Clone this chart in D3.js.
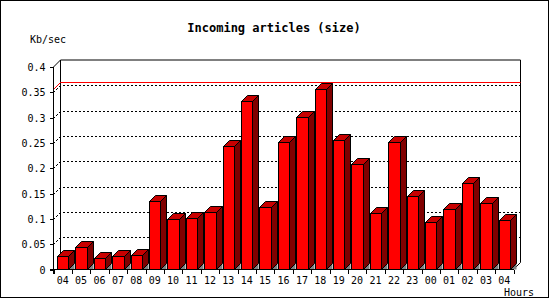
<!DOCTYPE html>
<html><head><meta charset="utf-8">
<script src="https://cdn.jsdelivr.net/npm/d3@7/dist/d3.min.js"></script>
<style>
html,body{margin:0;padding:0;background:#fff;}
svg{display:block;}
text{font-family:"DejaVu Sans Mono",monospace;fill:#000;}
</style>
</head><body>
<svg id="c" width="550" height="300"></svg>
<script>
const hours = ["04","05","06","07","08","09","10","11","12","13","14","15","16","17","18","19","20","21","22","23","00","01","02","03","04"];
const values = [0.027,0.045,0.023,0.027,0.029,0.136,0.100,0.102,0.114,0.243,0.333,0.123,0.251,0.302,0.356,0.255,0.209,0.112,0.251,0.146,0.094,0.120,0.170,0.132,0.098];
const yTicks = [0,0.05,0.1,0.15,0.2,0.25,0.3,0.35,0.4];
const title = "Incoming articles (size)";
const yTitle = "Kb/sec";
const xTitle = "Hours";

const svg = d3.select("#c");
const W = 550, H = 300;
const X0 = 53.5, X1 = 513.5, Y0 = 269.5, YT = 67;
const D = 7;   // wall depth
const BD = 6;  // bar depth

svg.append("rect").attr("x",0.5).attr("y",0.5).attr("width",548).attr("height",297)
  .attr("fill","#fff").attr("stroke","#000").attr("shape-rendering","crispEdges");

const x = d3.scaleBand().domain(d3.range(hours.length)).range([X0, X1])
  .paddingInner(0.375).paddingOuter(0.1875);
const y = d3.scaleLinear().domain([0, 0.4]).range([Y0, YT]);
const step = x.step();
const bw = x.bandwidth();
const off = (step - bw) / 2;

// back wall outline
const g = svg.append("g");
g.append("path")
  .attr("d", `M${X0},${y(0.4)}L${X0+D},${y(0.4)-D}L${X1+D},${y(0.4)-D}L${X1+D},${Y0-D}L${X1},${Y0}`)
  .attr("fill","none").attr("stroke","#000");
g.append("line").attr("x1",X0+D).attr("x2",X0+D).attr("y1",y(0.4)-D).attr("y2",Y0-D)
  .attr("stroke","#000").attr("shape-rendering","crispEdges");

// gridlines
yTicks.filter(v => v > 0 && v < 0.4).forEach(v => {
  const yy = Math.round(y(v)) + 0.5;
  g.append("path")
    .attr("d", `M${X0},${yy}L${X0+D},${yy-D}L${X1+D},${yy-D}`)
    .attr("fill","none").attr("stroke","#000").attr("stroke-dasharray","2,2")
    .attr("shape-rendering","crispEdges");
});

// max line
const vmax = d3.max(values);
const ym = Math.round(y(vmax)) + 0.5;
g.append("path")
  .attr("d", `M${X0},${ym}L${X0+D},${ym-D}L${X1+D},${ym-D}`)
  .attr("fill","none").attr("stroke","#ff0000");

// bars
const bars = svg.append("g").attr("stroke","#000").attr("stroke-width",1);
values.forEach((v, i) => {
  const l = Math.round(x(i)) + 0.5;
  const r = Math.round(x(i) + bw) + 0.5;
  const t = Math.round(y(v)) + 0.5;
  const b = Y0;
  // floor shadow
  bars.append("path").attr("d", `M${r},${b}L${r+BD},${b-BD}L${r+BD},${b}Z`)
    .attr("fill","#808080").attr("stroke","none");
  // side
  bars.append("path").attr("d", `M${r},${t}L${r+BD},${t-BD}L${r+BD},${b-BD}L${r},${b}Z`)
    .attr("fill","#800000");
  // top
  bars.append("path").attr("d", `M${l},${t}L${l+BD},${t-BD}L${r+BD},${t-BD}L${r},${t}Z`)
    .attr("fill","#c80000");
  // front
  bars.append("rect").attr("x", l).attr("y", t).attr("width", r - l).attr("height", b - t)
    .attr("fill","#ff0000");
});

// y axis
const ya = svg.append("g").attr("transform", `translate(${X0},0)`)
  .call(d3.axisLeft(y).tickValues(yTicks).tickSize(4).tickPadding(4)
    .tickFormat(d => String(+d.toFixed(2))));
ya.select(".domain").remove();
ya.append("line").attr("x1",0).attr("x2",0).attr("y1",y(0.4)).attr("y2",Y0+4)
  .attr("stroke","#000").attr("shape-rendering","crispEdges");
ya.selectAll(".tick line").attr("shape-rendering","crispEdges");
ya.selectAll("text").attr("font-family","DejaVu Sans Mono").attr("font-size","10px").attr("dy","0.35em");

// x axis baseline
svg.append("line").attr("x1",X0-4).attr("x2",X1).attr("y1",Y0).attr("y2",Y0)
  .attr("stroke","#000").attr("shape-rendering","crispEdges");
// x ticks at band boundaries
d3.range(hours.length + 1).forEach(i => {
  const xx = Math.round(i < hours.length ? x(i) - off : x(hours.length-1) + bw + off) + 0.5;
  svg.append("line").attr("x1",xx).attr("x2",xx).attr("y1",Y0).attr("y2",Y0+4)
    .attr("stroke","#000").attr("shape-rendering","crispEdges");
});
svg.append("g").selectAll("text").data(hours).join("text")
  .attr("x", (d,i) => x(i) + bw/2).attr("y", 280)
  .attr("text-anchor","middle").attr("dominant-baseline","central")
  .attr("font-size","10px").text(d => d);

// titles
svg.append("text").attr("x",274).attr("y",28).attr("text-anchor","middle")
  .attr("dominant-baseline","central").attr("font-weight","bold").attr("font-size","12px").text(title);
svg.append("text").attr("x",30).attr("y",39).attr("dominant-baseline","central")
  .attr("font-size","10px").text(yTitle);
svg.append("text").attr("x",504).attr("y",292).attr("dominant-baseline","central")
  .attr("font-size","10px").text(xTitle);
</script>
</body></html>
